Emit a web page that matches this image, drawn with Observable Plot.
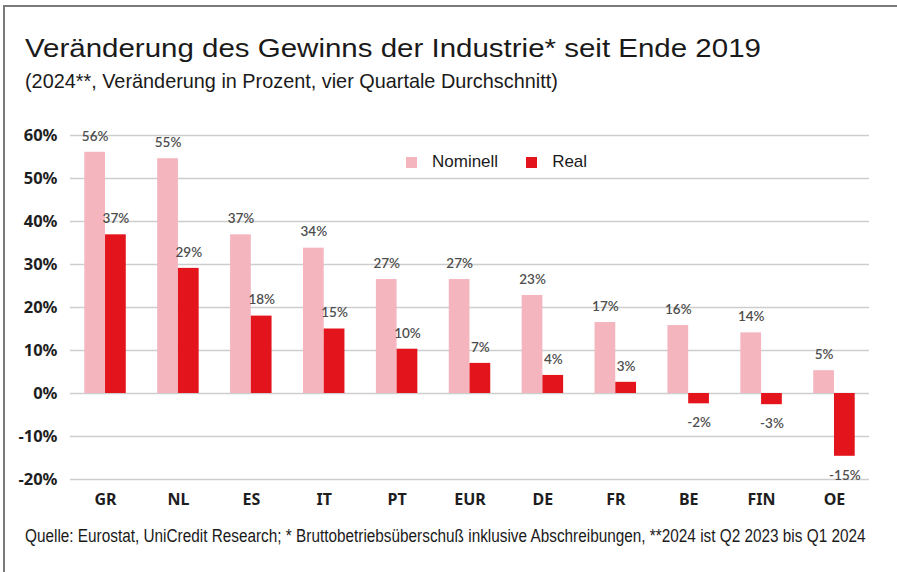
<!DOCTYPE html>
<html>
<head>
<meta charset="utf-8">
<script src="https://cdn.jsdelivr.net/npm/d3@7"></script>
<script src="https://cdn.jsdelivr.net/npm/@observablehq/plot@0.6"></script>
<style>
  html, body { margin: 0; padding: 0; background: #fff; }
  #page { position: relative; width: 897px; height: 572px; overflow: hidden; font-family: "Liberation Sans", Arial, sans-serif; }
  #frame { position: absolute; left: 3px; top: 5px; width: 900px; height: 600px; border-top: 2px solid #7a7a7a; border-left: 2px solid #7a7a7a; }
  .t { position: absolute; left: 25px; white-space: nowrap; color: #1a1a1a; line-height: 1; transform-origin: 0 0; }
  #title { top: 35px; font-size: 26px; transform: scaleX(1.134); }
  #subtitle { top: 70px; font-size: 21px; transform: scaleX(0.945); }
  #caption { top: 527px; font-size: 18px; transform: scaleX(0.852); }
  #chart { position: absolute; left: 0; top: 110px; }
  #legend { position: absolute; top: 152px; left: 406px; font-size: 17px; color: #1a1a1a; display: flex; align-items: center; }
  #legend .sw { width: 11px; height: 11px; display: inline-block; margin-right: 15px; }
  #legend .item { display: flex; align-items: center; margin-right: 28px; }
</style>
</head>
<body>
<div id="page">
  <div id="frame"></div>
  <div id="title" class="t">Veränderung des Gewinns der Industrie* seit Ende 2019</div>
  <div id="subtitle" class="t">(2024**, Veränderung in Prozent, vier Quartale Durchschnitt)</div>
  <div id="chart"></div>
  <div id="legend"></div>
  <div id="caption" class="t">Quelle: Eurostat, UniCredit Research; * Bruttobetriebsüberschuß inklusive Abschreibungen, **2024 ist Q2 2023 bis Q1 2024</div>
</div>
<script>
const countries = ["GR", "NL", "ES", "IT", "PT", "EUR", "DE", "FR", "BE", "FIN", "OE"];
const nominell = [56.1, 54.6, 36.9, 33.8, 26.5, 26.5, 22.8, 16.5, 15.8, 14.1, 5.3];
const real = [36.9, 29.1, 18.0, 15.0, 10.3, 7.0, 4.2, 2.6, -2.4, -2.6, -14.6];
const series = ["Nominell", "Real"];
const colors = ["#f5b5bf", "#e3141b"];
const yTicks = [-20, -10, 0, 10, 20, 30, 40, 50, 60];

const rows = countries.flatMap((c, i) => [
  {country: c, series: "Nominell", value: nominell[i]},
  {country: c, series: "Real", value: real[i]}
]);
const nomRows = rows.filter(d => d.series === "Nominell");
const realRows = rows.filter(d => d.series === "Real");
const realPos = realRows.filter(d => d.value >= 0);
const realNeg = realRows.filter(d => d.value < 0);
const fmt = d => Math.round(d.value) + "%";

const width = 897, height = 400;
const bw = 41.5;
const labelStyle = {fill: "#4d4d4d", fontSize: 13.5, fontFamily: "Lato, sans-serif", fontWeight: 600};

const chart = Plot.plot({
  width, height,
  marginLeft: 70, marginRight: 28, marginTop: 25, marginBottom: 31,
  style: {background: "transparent", overflow: "visible"},
  x: {domain: countries, paddingInner: 0.431, paddingOuter: 0.196, round: false, label: null},
  y: {domain: [-20, 60], label: null},
  marks: [
    Plot.ruleY(yTicks, {stroke: "#cdcdcd", strokeWidth: 1.6}),
    Plot.barY(nomRows, {x: "country", y: "value", fill: colors[0], insetRight: bw / 2}),
    Plot.barY(realRows, {x: "country", y: "value", fill: colors[1], insetLeft: bw / 2}),
    Plot.text(nomRows, {x: "country", y: "value", text: fmt, dx: -bw / 4, dy: -16, ...labelStyle}),
    Plot.text(realPos, {x: "country", y: "value", text: fmt, dx: bw / 4, dy: -16, ...labelStyle}),
    Plot.text(realNeg, {x: "country", y: "value", text: fmt, dx: bw / 4, dy: 19, ...labelStyle}),
    Plot.axisY({ticks: yTicks, tickSize: 0, tickPadding: 13, tickFormat: d => d + "%", fontSize: 16.5, fontWeight: "bold", fill: "#1e1e1e", label: null}),
    Plot.axisX({tickSize: 0, tickPadding: 14, fontSize: 16, fontWeight: "bold", fill: "#1e1e1e", label: null, letterSpacing: "-2px"})
  ]
});
document.getElementById("chart").appendChild(chart);

const legend = document.getElementById("legend");
series.forEach((s, i) => {
  const item = document.createElement("div");
  item.className = "item";
  const sw = document.createElement("span");
  sw.className = "sw";
  sw.style.background = colors[i];
  const lab = document.createElement("span");
  lab.textContent = s;
  item.appendChild(sw);
  item.appendChild(lab);
  legend.appendChild(item);
});
</script>
</body>
</html>
